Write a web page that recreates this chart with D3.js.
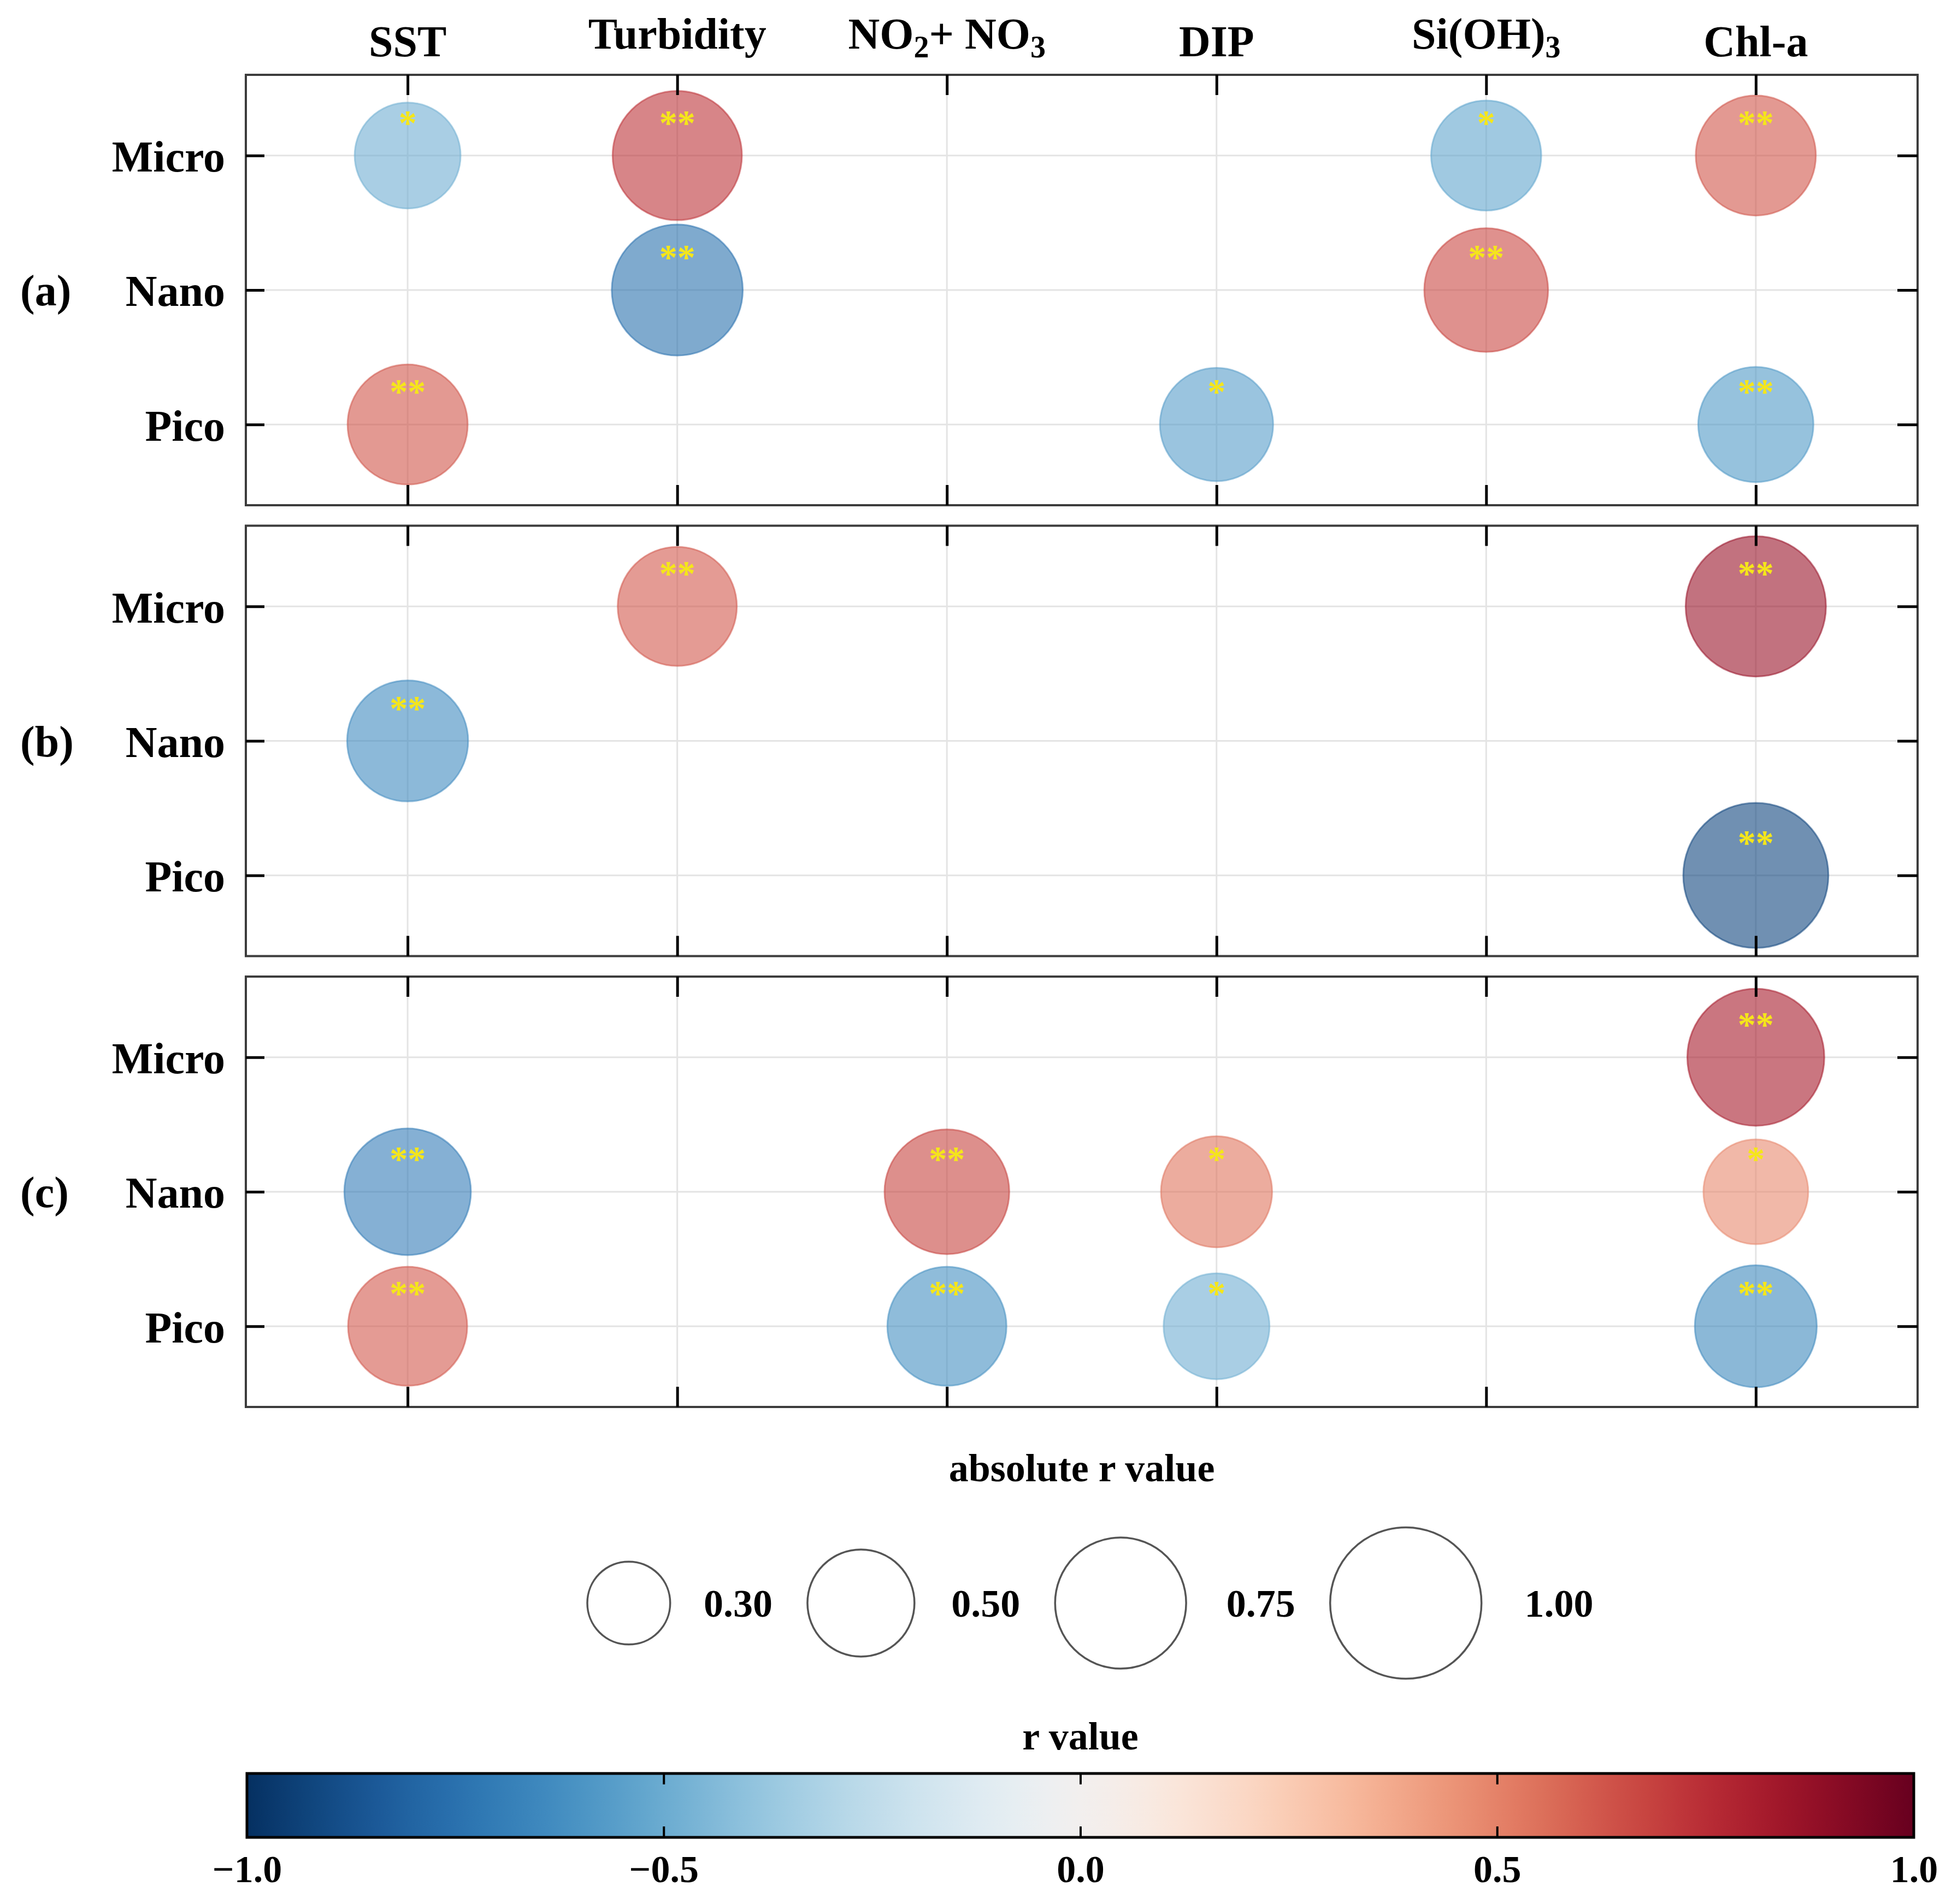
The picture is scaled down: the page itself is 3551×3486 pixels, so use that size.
<!DOCTYPE html>
<html>
<head>
<meta charset="utf-8">
<script src="https://cdn.jsdelivr.net/npm/d3@7"></script>
<style>
  body { margin: 0; background: #fff; }
  text { font-family: "Liberation Serif", "Times New Roman", serif; }
</style>
</head>
<body>
<script>
const W = 3551, H = 3486;

// categories
const panels = ["(a)", "(b)", "(c)"];
const rows = ["Micro", "Nano", "Pico"];
const vars = ["SST", "Turbidity", "NO2+ NO3", "DIP", "Si(OH)3", "Chl-a"];

// r values (null = not significant, no bubble), rows x vars
const rA = [
  [-0.49, 0.73, null, null, -0.53, 0.63],
  [null, -0.75, null, null, 0.67, null],
  [0.63, null, null, -0.56, null, -0.58],
];
const rB = [
  [null, 0.62, null, null, null, 0.86],
  [-0.64, null, null, null, null, null],
  [null, null, null, null, null, -0.92],
];
const rC = [
  [null, null, null, null, null, 0.82],
  [-0.70, null, 0.68, 0.54, null, 0.48],
  [0.62, null, -0.62, -0.49, null, -0.65],
];

// significance marks
const sigA = [
  ["*", "**", "", "", "*", "**"],
  ["", "**", "", "", "**", ""],
  ["**", "", "", "*", "", "**"],
];
const sigB = [
  ["", "**", "", "", "", "**"],
  ["**", "", "", "", "", ""],
  ["", "", "", "", "", "**"],
];
const sigC = [
  ["", "", "", "", "", "**"],
  ["**", "", "**", "*", "", "*"],
  ["**", "", "**", "*", "", "**"],
];

const sizeLegend = [0.30, 0.50, 0.75, 1.00];
const colorTicks = [-1.0, -0.5, 0.0, 0.5, 1.0];

const rTables = [rA, rB, rC];
const sigTables = [sigA, sigB, sigC];

const svg = d3.select("body").append("svg")
  .attr("width", W)
  .attr("height", H);

const x0 = 450, x1 = 3510;
const panelH = 788, panelGap = 37.5, top0 = 137;

const x = d3.scaleLinear().domain([0.4, 6.6]).range([x0, x1]);
const size = d3.scaleSqrt().domain([0, 1]).range([0, 138.5]);
const color = (r) => d3.interpolateRdBu((1 - r) / 2);

// column headers, digits after a letter or ")" become subscripts
const header = svg.append("g")
  .attr("font-weight", "bold")
  .attr("font-size", 80)
  .attr("text-anchor", "middle");

vars.forEach((name, i) => {
  const lifted = /[ypgq()]|[A-Za-z)]\d/.test(name);
  const t = header.append("text")
    .attr("x", x(i + 1))
    .attr("y", lifted ? 89 : 103);
  let shift = 0;
  name.split(/(?<=[A-Za-z)])(\d)/).forEach((part) => {
    if (!part) return;
    const sub = /^\d$/.test(part);
    const dy = (sub ? 16 : 0) - shift;
    shift = sub ? 16 : 0;
    const s = t.append("tspan").text(part);
    if (dy) s.attr("dy", dy);
    if (sub) s.attr("font-size", 56);
  });
});

panels.forEach((name, p) => {
  const y0 = top0 + p * (panelH + panelGap);
  const y = d3.scaleLinear().domain([0.4, 3.6]).range([y0, y0 + panelH]);
  const g = svg.append("g");

  const cells = [];
  rTables[p].forEach((row, ri) => {
    row.forEach((r, ci) => {
      if (r !== null) {
        cells.push({ row: ri + 1, col: ci + 1, r: r, sig: sigTables[p][ri][ci] });
      }
    });
  });

  // grid
  g.append("g")
    .selectAll("line")
    .data(vars)
    .join("line")
    .attr("x1", (d, i) => x(i + 1))
    .attr("x2", (d, i) => x(i + 1))
    .attr("y1", y0)
    .attr("y2", y0 + panelH)
    .attr("stroke", "#e4e4e4")
    .attr("stroke-width", 3);

  g.append("g")
    .selectAll("line")
    .data(rows)
    .join("line")
    .attr("x1", x0)
    .attr("x2", x1)
    .attr("y1", (d, i) => y(i + 1))
    .attr("y2", (d, i) => y(i + 1))
    .attr("stroke", "#e4e4e4")
    .attr("stroke-width", 3);

  // bubbles
  g.append("g")
    .selectAll("circle")
    .data(cells)
    .join("circle")
    .attr("cx", (d) => x(d.col))
    .attr("cy", (d) => y(d.row))
    .attr("r", (d) => size(Math.abs(d.r)))
    .attr("fill", (d) => color(d.r))
    .attr("fill-opacity", 0.6)
    .attr("stroke", (d) => color(d.r))
    .attr("stroke-opacity", 0.55)
    .attr("stroke-width", 3);

  // significance stars
  g.append("g")
    .selectAll("text")
    .data(cells)
    .join("text")
    .attr("x", (d) => x(d.col))
    .attr("y", (d) => y(d.row) - 38)
    .attr("text-anchor", "middle")
    .attr("font-size", 66)
    .attr("font-weight", "bold")
    .attr("fill", "#f5e61a")
    .text((d) => d.sig);

  // box
  g.append("rect")
    .attr("x", x0)
    .attr("y", y0)
    .attr("width", x1 - x0)
    .attr("height", panelH)
    .attr("fill", "none")
    .attr("stroke", "#3c3c3c")
    .attr("stroke-width", 4);

  // inward ticks on all four sides
  const colTicks = d3.range(1, vars.length + 1);
  const rowTicks = d3.range(1, rows.length + 1);

  const styleAxis = (sel) => {
    sel.select(".domain").remove();
    sel.selectAll(".tick line").attr("stroke", "#000").attr("stroke-width", 5);
  };

  g.append("g")
    .attr("transform", `translate(0,${y0})`)
    .call(d3.axisTop(x).tickValues(colTicks).tickSize(-37).tickFormat(""))
    .call(styleAxis);

  g.append("g")
    .attr("transform", `translate(0,${y0 + panelH})`)
    .call(d3.axisBottom(x).tickValues(colTicks).tickSize(-37).tickFormat(""))
    .call(styleAxis);

  g.append("g")
    .attr("transform", `translate(${x1},0)`)
    .call(d3.axisRight(y).tickValues(rowTicks).tickSize(-37).tickFormat(""))
    .call(styleAxis);

  g.append("g")
    .attr("transform", `translate(${x0},0)`)
    .call(
      d3.axisLeft(y)
        .tickValues(rowTicks)
        .tickSize(-34)
        .tickPadding(38)
        .tickFormat((d) => rows[d - 1])
    )
    .call(styleAxis)
    .call((sel) =>
      sel.selectAll(".tick text")
        .attr("font-family", null)
        .attr("font-size", 80)
        .attr("font-weight", "bold")
        .attr("fill", "#000")
        .attr("dy", "0.36em")
    );

  // panel label
  g.append("text")
    .attr("x", 37)
    .attr("y", y(2) + 28)
    .attr("font-size", 80)
    .attr("font-weight", "bold")
    .text(name);
});

// size legend
const midX = (x0 + x1) / 2;
const legY = 2935;

svg.append("text")
  .attr("x", midX)
  .attr("y", 2712)
  .attr("text-anchor", "middle")
  .attr("font-size", 72)
  .attr("font-weight", "bold")
  .text("absolute r value");

let cursor = 1075;
const legItems = sizeLegend.map((v) => {
  const r = size(v);
  const cx = cursor + r;
  const lx = cx + r + 40 + 0.28 * r;
  cursor = lx + 190;
  return { v, r, cx, lx };
});

const leg = svg.append("g");
leg.selectAll("circle")
  .data(legItems)
  .join("circle")
  .attr("cx", (d) => d.cx)
  .attr("cy", legY)
  .attr("r", (d) => d.r)
  .attr("fill", "none")
  .attr("stroke", "#555")
  .attr("stroke-width", 3.5);

leg.selectAll("text")
  .data(legItems)
  .join("text")
  .attr("x", (d) => d.lx)
  .attr("y", legY + 25)
  .attr("font-size", 72)
  .attr("font-weight", "bold")
  .text((d) => d3.format(".2f")(d.v));

// colour bar
const cbX0 = 452, cbX1 = 3503, cbY0 = 3247, cbY1 = 3364;
const cb = d3.scaleLinear().domain([-1, 1]).range([cbX0, cbX1]);

svg.append("text")
  .attr("x", (cbX0 + cbX1) / 2)
  .attr("y", 3203)
  .attr("text-anchor", "middle")
  .attr("font-size", 72)
  .attr("font-weight", "bold")
  .text("r value");

const grad = svg.append("defs")
  .append("linearGradient")
  .attr("id", "rdbu")
  .attr("x1", "0%")
  .attr("x2", "100%");

grad.selectAll("stop")
  .data(d3.range(0, 1.0001, 0.02))
  .join("stop")
  .attr("offset", (d) => `${d * 100}%`)
  .attr("stop-color", (d) => color(d * 2 - 1));

svg.append("rect")
  .attr("x", cbX0)
  .attr("y", cbY0)
  .attr("width", cbX1 - cbX0)
  .attr("height", cbY1 - cbY0)
  .attr("fill", "url(#rdbu)");

const inner = colorTicks.filter((d) => Math.abs(d) < 1);
svg.append("g")
  .attr("transform", `translate(0,${cbY0})`)
  .call(d3.axisTop(cb).tickValues(inner).tickSize(-20).tickFormat(""))
  .call((sel) => {
    sel.select(".domain").remove();
    sel.selectAll(".tick line").attr("stroke", "#000").attr("stroke-width", 4);
  });

svg.append("g")
  .attr("transform", `translate(0,${cbY1})`)
  .call(
    d3.axisBottom(cb)
      .tickValues(colorTicks)
      .tickSize(-20)
      .tickPadding(32)
      .tickFormat(d3.format(".1f"))
  )
  .call((sel) => {
    sel.select(".domain").remove();
    sel.selectAll(".tick line")
      .attr("stroke", "#000")
      .attr("stroke-width", 4)
      .filter((d) => Math.abs(d) === 1)
      .remove();
    sel.selectAll(".tick text")
      .attr("font-family", null)
      .attr("font-size", 70)
      .attr("font-weight", "bold")
      .attr("fill", "#000");
  });

svg.append("rect")
  .attr("x", cbX0)
  .attr("y", cbY0)
  .attr("width", cbX1 - cbX0)
  .attr("height", cbY1 - cbY0)
  .attr("fill", "none")
  .attr("stroke", "#000")
  .attr("stroke-width", 5);
</script>
</body>
</html>
